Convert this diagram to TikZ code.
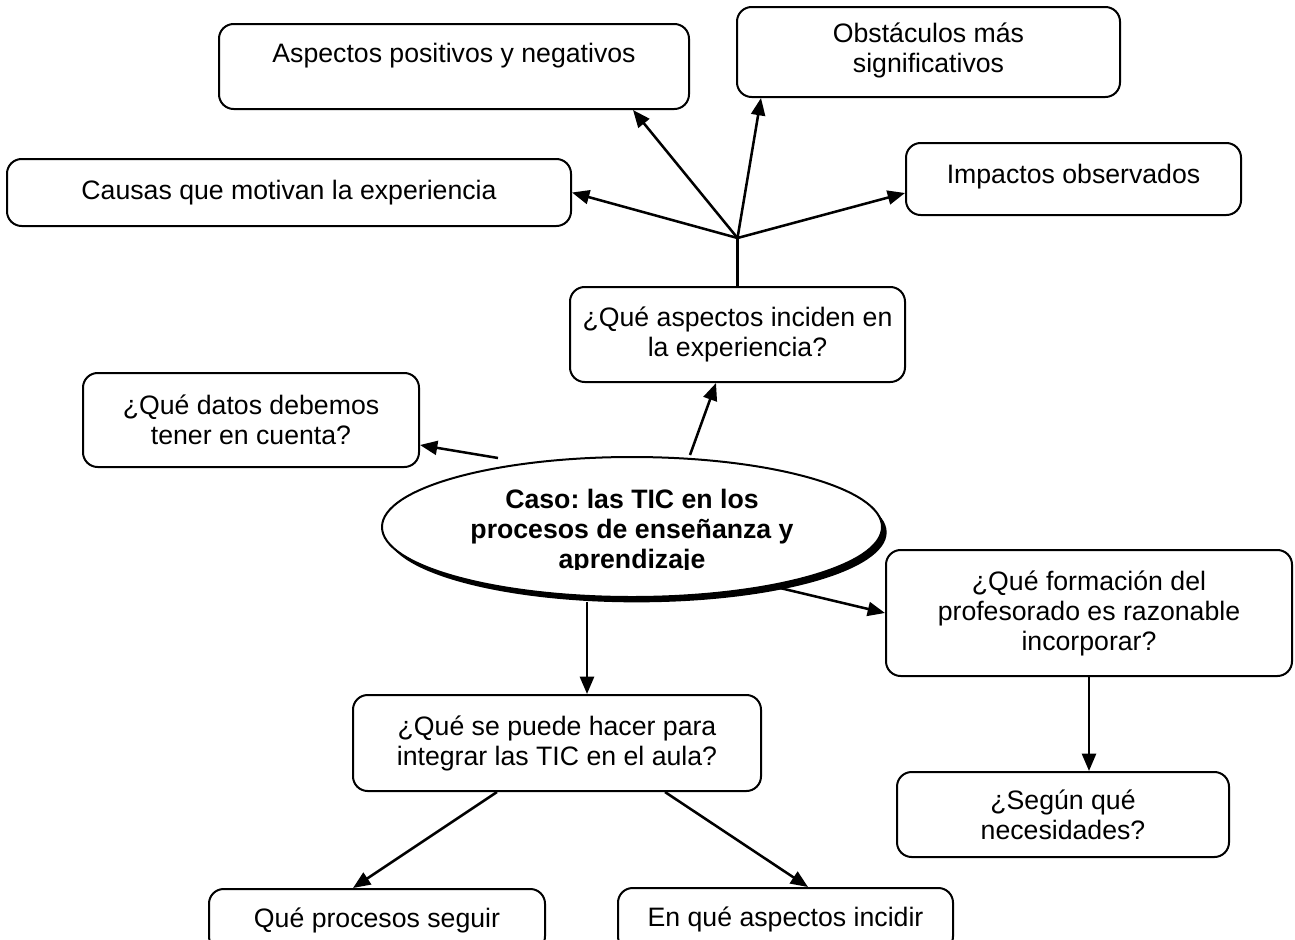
\documentclass[tikz,border=0pt]{standalone}
\usepackage{fontspec}
\setmainfont{Liberation Sans}
\usetikzlibrary{calc,shapes.geometric,arrows.meta,shadows}
\begin{document}
\frenchspacing
\begin{tikzpicture}[x=0.75pt,y=-0.75pt,
  sz/.style 2 args={minimum width=#1*0.75pt, minimum height=#2*0.75pt},
  box/.style={draw, rounded corners=11pt, line width=1.5pt, fill=white, align=center,
    inner sep=0pt, font=\fontsize{20}{22.5}\selectfont},
  arr/.style={line width=1.9pt, -{Triangle[length=13pt,width=10.5pt]}},
  plain/.style={line width=1.9pt}]
\useasboundingbox (0,0) rectangle (1295,939);
\clip (0,0) rectangle (1295,939);

% boxes
\node[box, sz={470}{85}, text depth=21pt] (aspos) at (454,66.5) {Aspectos positivos y negativos};
\node[box, sz={383}{90}, text depth=6pt] (obst) at (928.5,52) {Obstáculos más\\significativos};
\node[box, sz={564}{67}] (causas) at (289,192.5) {Causas que motivan la experiencia};
\node[box, sz={335}{72}, text depth=8pt] (imp) at (1073.5,179) {Impactos observados};
\node[box, sz={335}{95}] (inciden) at (737.5,334.5) {¿Qué aspectos inciden en\\la experiencia?};
\node[box, sz={336}{94}] (datos) at (251,420) {¿Qué datos debemos\\tener en cuenta?};
\node[box, sz={406}{126}] (form) at (1089,613) {¿Qué formación del\\profesorado es razonable\\incorporar?};
\node[box, sz={408}{96}] (integ) at (557,743) {¿Qué se puede hacer para\\integrar las TIC en el aula?};
\node[box, sz={332}{85}] (segun) at (1063,814.5) {¿Según qué\\necesidades?};
\node[box, sz={336}{62}] (proc) at (377,920) {Qué procesos seguir};
\node[box, sz={335}{63}] (enque) at (785.5,919.5) {En qué aspectos incidir};

% central ellipse
\node[ellipse, draw, line width=1.5pt, fill=white, sz={500}{140},
  drop shadow={shadow xshift=3.5pt, shadow yshift=-4pt, fill=black, opacity=1}] (caso) at (632,527) {};
\begin{scope}
  \clip (382,440) rectangle (882,569);
  \node[align=center, inner sep=0pt, font=\fontsize{20}{22.5}\selectfont\bfseries] (casotext) at (632,532)
    {Caso: las TIC en los\\procesos de enseñanza y\\aprendizaje};
\end{scope}

% hub and connectors
\coordinate (hub) at ($(inciden.north)+(0,-48)$);
\draw[plain] (inciden.north) -- (hub);
\draw[arr] (hub) -- (causas.east);
\draw[arr] (hub) -- ($(aspos.south east)+(-57,0)$);
\draw[arr] (hub) -- ($(obst.south west)+(25,0)$);
\draw[arr] (hub) -- ($(imp.west)+(0,14)$);

\coordinate (c1) at ($(caso.center)+(58,-72)$);
\coordinate (c2) at ($(caso.center)+(-134,-69)$);
\coordinate (c3) at ($(caso.center)+(148,61)$);
\coordinate (c4) at ($(caso.center)+(-45,75)$);
\draw[arr] (c1) -- ($(inciden.south)+(-21.5,0)$);
\draw[arr] (c2) -- ($(datos.east)+(0,25)$);
\draw[arr] (c3) -- (form.west);
\draw[arr] (c4) -- (c4 |- integ.north);
\draw[arr] (form.south) -- (form.south |- segun.north);
\draw[arr] ($(integ.south)+(-60,0)$) -- ($(proc.north)+(-24,0)$);
\draw[arr] ($(integ.south)+(108,0)$) -- ($(enque.north)+(22.5,0)$);
\end{tikzpicture}
\end{document}
